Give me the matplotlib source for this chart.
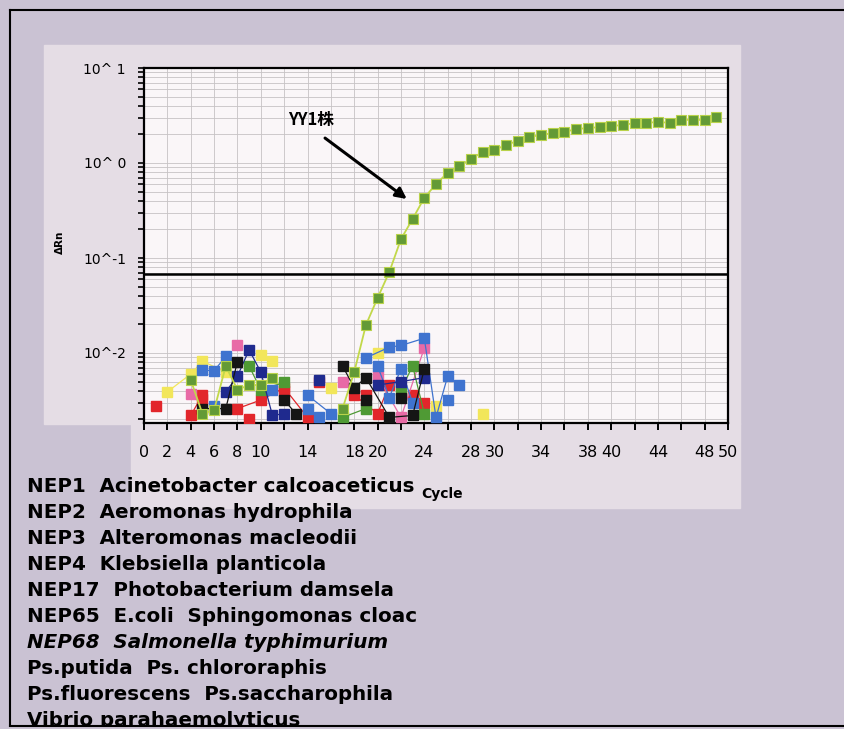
import numpy as np
import matplotlib.pyplot as plt
from matplotlib.patches import Rectangle
from matplotlib.lines import Line2D

# ---- data --------------------------------------------------------------
yy1_cycles = list(range(4, 12)) + list(range(17, 50))
yy1_values = [0.0052, 0.0023, 0.0025, 0.0073, 0.0041, 0.0046, 0.0046, 0.0055,
              0.0026, 0.0063, 0.0197, 0.038, 0.071, 0.158, 0.258, 0.43,
              0.60, 0.79, 0.93, 1.10, 1.31, 1.37, 1.55, 1.71, 1.88, 1.97,
              2.07, 2.12, 2.28, 2.33, 2.39, 2.45, 2.51, 2.63, 2.66, 2.69,
              2.66, 2.84, 2.84, 2.84, 3.05]

red_a_cyc = [1, 4, 5, 8, 10, 12, 14, 18, 20, 21, 24]
red_a_val = [0.0028, 0.0022, 0.0036, 0.0026, 0.0032, 0.0043, 0.0021, 0.0036, 0.0023, 0.0046, 0.0030]
red_b_cyc = [5, 9, 12, 15, 19, 23]
red_b_val = [0.0033, 0.0020, 0.0040, 0.0050, 0.0036, 0.0036]

yellow_cyc = [2, 4, 5, 7, 10, 11, 16, 20, 25, 29]
yellow_val = [0.0039, 0.0060, 0.0082, 0.0063, 0.0095, 0.0082, 0.0043, 0.0100, 0.0028, 0.0023]

pink_cyc = [4, 8, 17, 20, 22, 24]
pink_val = [0.0037, 0.0121, 0.0050, 0.0057, 0.0021, 0.0113]

green_cyc = [9, 10, 12, 17, 19, 22, 23, 24]
green_val = [0.0073, 0.0041, 0.0049, 0.0021, 0.0026, 0.0041, 0.0073, 0.0023]

blue_a_cyc = [5, 6, 7, 11, 14, 16, 19, 21, 22, 24, 25, 26, 27]
blue_a_val = [0.0066, 0.0065, 0.0092, 0.0041, 0.0036, 0.0023, 0.0089, 0.0115, 0.0120, 0.0143, 0.0021, 0.0057, 0.0046]
blue_b_cyc = [6, 14, 15, 20, 21, 22, 23, 26]
blue_b_val = [0.0028, 0.0026, 0.0021, 0.0073, 0.0034, 0.0068, 0.0030, 0.0032]

navy_cyc = [7, 8, 9, 10, 11, 12, 15, 20, 22, 24]
navy_val = [0.0039, 0.0057, 0.0108, 0.0063, 0.0022, 0.0023, 0.0052, 0.0046, 0.0050, 0.0055]

black_a_cyc = [5, 7, 8, 12, 13, 17, 18, 19, 21, 23, 24]
black_a_val = [0.0026, 0.0026, 0.0081, 0.0032, 0.0023, 0.0073, 0.0043, 0.0055, 0.0021, 0.0022, 0.0068]
black_b_cyc = [19, 22]
black_b_val = [0.0032, 0.0034]

threshold = 0.068

xtick_pos = list(range(0, 51, 2))
xtick_shown = [0, 2, 4, 6, 8, 10, 14, 18, 20, 24, 28, 30, 34, 38, 40, 44, 48, 50]
ytick_pos = [0.01, 0.1, 1, 10]
ytick_lab = ["10^-2", "10^-1", "10^ 0", "10^ 1"]

legend_lines = [
    "NEP1  Acinetobacter calcoaceticus",
    "NEP2  Aeromonas hydrophila",
    "NEP3  Alteromonas macleodii",
    "NEP4  Klebsiella planticola",
    "NEP17  Photobacterium damsela",
    "NEP65  E.coli  Sphingomonas cloac",
    "NEP68  Salmonella typhimurium",
    "Ps.putida  Ps. chlororaphis",
    "Ps.fluorescens  Ps.saccharophila",
    "Vibrio parahaemolyticus",
]


def broken(cyc, val, gap=2):
    # no connecting line across longer gaps between cycles
    xs, ys = [], []
    for i, (c, v) in enumerate(zip(cyc, val)):
        if i and c - cyc[i - 1] > gap:
            xs.append(np.nan)
            ys.append(np.nan)
        xs.append(c)
        ys.append(v)
    return xs, ys


# ---- figure ------------------------------------------------------------
W, H = 845, 729
fig = plt.figure(figsize=(W / 100, H / 100), dpi=100)
bg = '#cac2d3'
panel = '#e5dde5'
fig.patch.set_facecolor(bg)

# lighter scanned panel behind the plot
fig.add_artist(Rectangle((44 / W, 1 - 424 / H), (740 - 44) / W, (424 - 45) / H,
                         transform=fig.transFigure, color=panel, zorder=-5))
fig.add_artist(Rectangle((131 / W, 1 - 508 / H), (740 - 131) / W, (508 - 423) / H,
                         transform=fig.transFigure, color=panel, zorder=-5))
# outer scan frame
fig.add_artist(Line2D([10 / W, 10 / W], [0, 1 - 10 / H], color='black', lw=1.5,
                      transform=fig.transFigure, zorder=-4))
fig.add_artist(Line2D([10 / W, 1], [1 - 10 / H, 1 - 10 / H], color='black', lw=1.5,
                      transform=fig.transFigure, zorder=-4))

ax = fig.add_axes([144 / W, 1 - 423 / H, (728 - 144) / W, (423 - 68) / H])
ax.set_zorder(2)
ax.set_facecolor('#faf6f8')
ax.set_yscale('log')
ax.set_xlim(0, 50)
ax.set_ylim(10 ** (1 - 355 / 95), 10)

ax.grid(True, which='both', axis='y', color='#c6c2c4', lw=0.6)
ax.grid(True, which='major', axis='x', color='#c6c2c4', lw=0.6)
ax.set_axisbelow(True)

noise = [
    (red_a_cyc, red_a_val, '#e2262b'),
    (red_b_cyc, red_b_val, '#e2262b'),
    (yellow_cyc, yellow_val, '#f2e65a'),
    (pink_cyc, pink_val, '#e86aa6'),
    (green_cyc, green_val, '#4f9a34'),
    (blue_a_cyc, blue_a_val, '#3f73cf'),
    (blue_b_cyc, blue_b_val, '#3f73cf'),
    (navy_cyc, navy_val, '#1f2a8e'),
    (black_a_cyc, black_a_val, '#151515'),
    (black_b_cyc, black_b_val, '#151515'),
]
for cyc, val, col in noise:
    lx, ly = broken(cyc, val)
    ax.plot(lx, ly, color=col, lw=0.9, zorder=3)
    ax.plot(cyc, val, ls='none', marker='s', ms=6.5, mec=col, mfc=col, zorder=3)

lx, ly = broken(yy1_cycles, yy1_values)
ax.plot(lx, ly, color='#c2d84a', lw=1.3, zorder=4)
ax.plot(yy1_cycles, yy1_values, ls='none', marker='s', ms=6.5,
        mfc='#639a36', mec='#b9d24a', mew=0.8, zorder=4)

ax.axhline(threshold, color='black', lw=1.8, zorder=5)

ax.text(14.3, 2.84, "YY1株", ha='center', va='center', fontsize=12,
        fontweight='bold', family=['Noto Sans CJK SC', 'DejaVu Sans'], zorder=6)
ax.annotate("", xy=(22.5, 0.418), xytext=(15.5, 1.83),
            arrowprops=dict(arrowstyle='-|>', color='black', lw=2.2,
                            mutation_scale=16, shrinkA=0, shrinkB=0), zorder=6)

ax.set_xticks(xtick_pos)
ax.set_xticklabels([str(t) if t in xtick_shown else '' for t in xtick_pos],
                   family=['Liberation Sans Narrow', 'DejaVu Sans'], fontsize=11.5)
ax.tick_params(axis='x', direction='out', length=5, width=1.4, pad=11)
ax.set_yticks(ytick_pos)
ax.set_yticklabels(ytick_lab, family=['Liberation Sans Narrow', 'DejaVu Sans'], fontsize=10)
ax.tick_params(axis='y', which='both', direction='out', length=4, width=1.2, pad=9)
ax.xaxis.set_tick_params(which='minor', length=0)
for s in ax.spines.values():
    s.set_color('black')
    s.set_linewidth(1.6)

fig.text(60 / W, 1 - 242 / H, "ΔRn", rotation=90, ha='center', va='center',
         fontsize=7.5, fontweight='bold')
fig.text(442 / W, 1 - 494 / H, "Cycle", ha='center', va='center',
         fontsize=10, fontweight='bold',
         family=['Liberation Sans Narrow', 'DejaVu Sans'], zorder=3)

for i, line in enumerate(legend_lines):
    style = 'italic' if line.startswith("NEP68") else 'normal'
    fig.text(27 / W, 1 - (486 + 26 * i) / H, line, ha='left', va='center',
             fontsize=14.3, fontweight='bold', style=style,
             family=['DejaVu Sans'], zorder=2)

# bottom edge of the scan cuts the last line
fig.add_artist(Rectangle((0, 0), 1, 2 / H, transform=fig.transFigure,
                         color=bg, zorder=5))
fig.add_artist(Line2D([10 / W, 1], [3 / H, 3 / H], color='black', lw=1.5,
                      transform=fig.transFigure, zorder=6))

fig.savefig('out.png', dpi=100, facecolor=bg)
